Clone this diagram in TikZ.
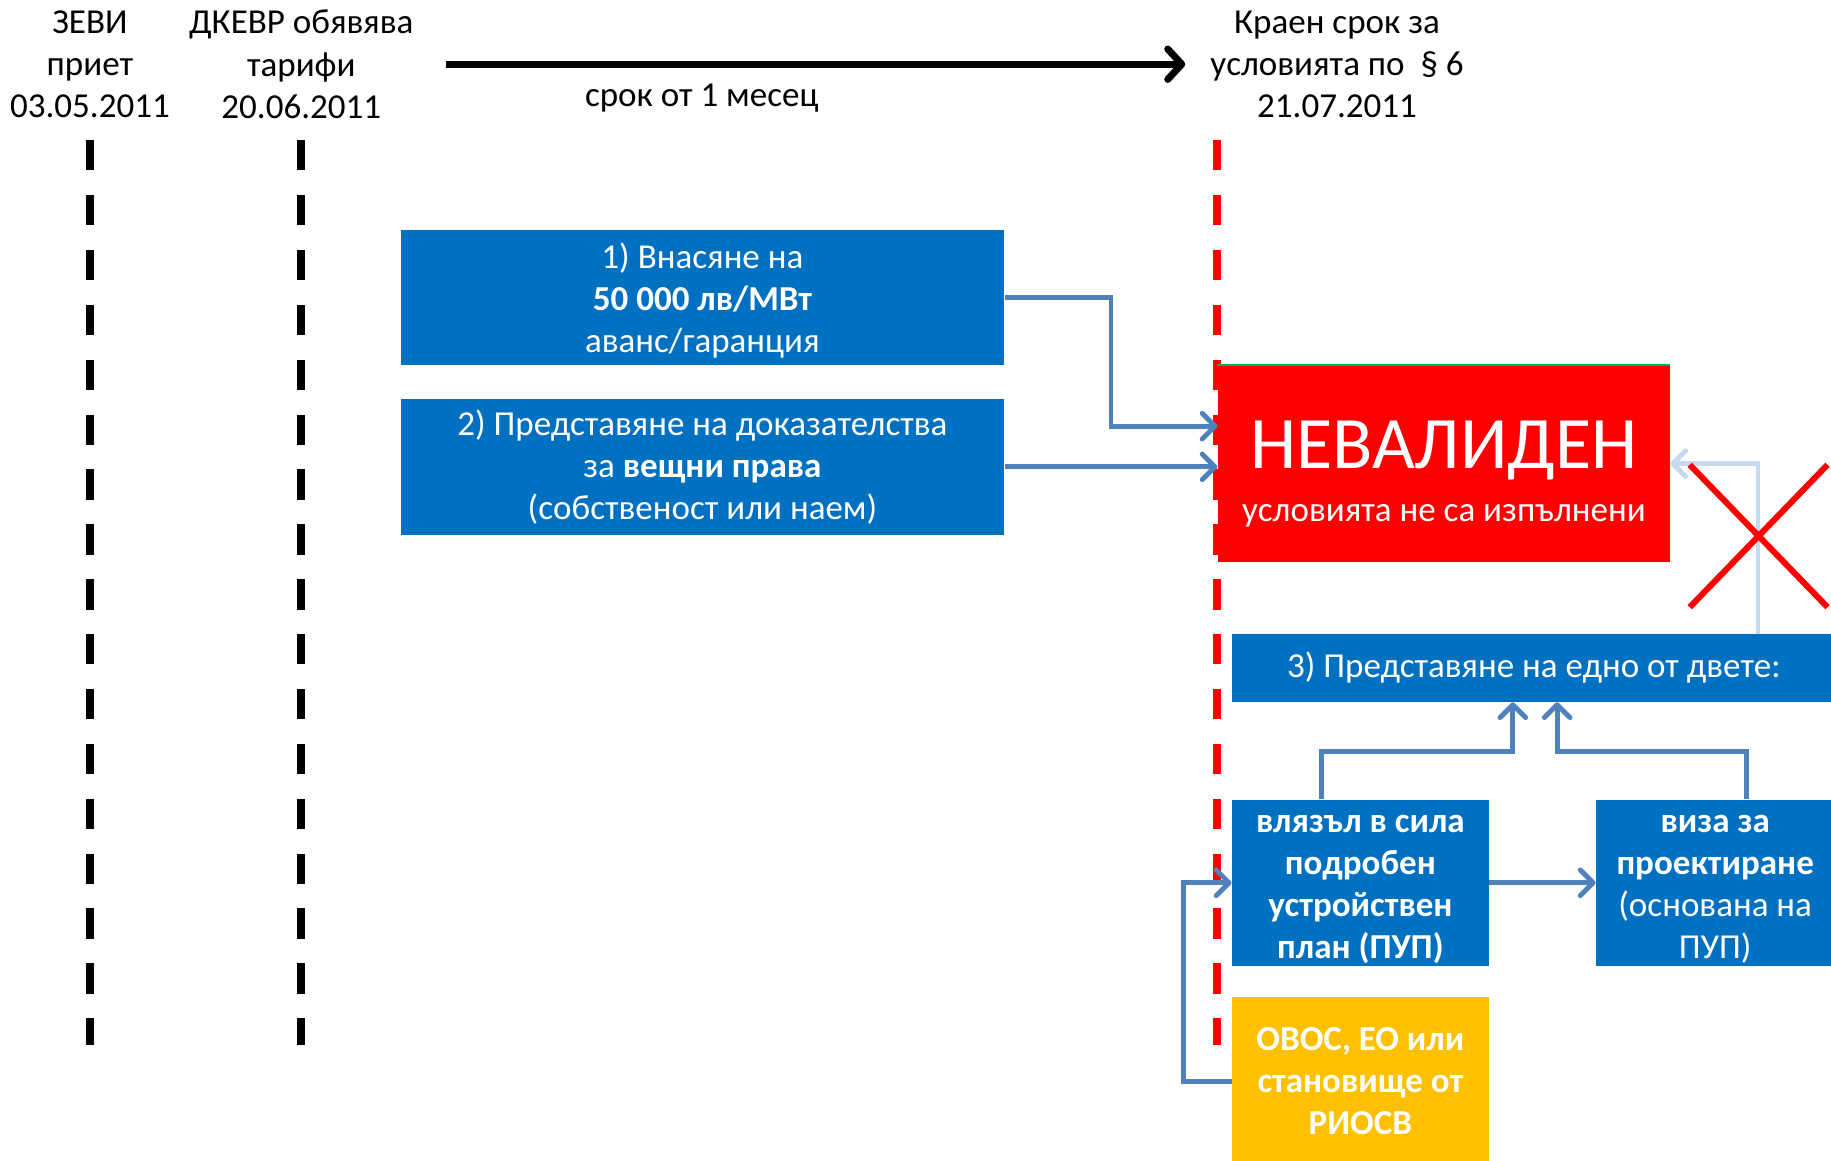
\documentclass[tikz,border=0pt]{standalone}
\usepackage{fontspec}
\setmainfont{Carlito}
\usepackage{tikz}
\usetikzlibrary{arrows.meta,positioning}
\definecolor{boxblue}{RGB}{0,112,192}
\definecolor{linkblue}{RGB}{79,129,189}
\definecolor{paleblue}{RGB}{198,217,241}
\definecolor{warnred}{RGB}{255,0,0}
\definecolor{amber}{RGB}{255,192,0}
\definecolor{topgreen}{RGB}{0,176,80}
\tikzstyle{box}=[rectangle, inner sep=2pt, align=center, text=white, font=\fontsize{15}{18}\selectfont]
\tikzstyle{bluebox}=[box, fill=boxblue]
\tikzstyle{yellowbox}=[box, fill=amber, font=\fontsize{15}{18}\selectfont\bfseries]
\tikzstyle{link}=[linkblue, line width=2.1pt, -{Straight Barb[length=5.5pt,width=11pt,round]}]
\tikzstyle{timeline}=[line width=3.5pt, dash pattern=on 13pt off 10.5pt]
\tikzstyle{caption}=[align=center, font=\fontsize{15}{18}\selectfont]

\begin{document}
\begin{tikzpicture}[x=0.5pt, y=-0.5pt]
    \useasboundingbox (0,0) rectangle (1568,994);

    % dashed date lines, using a loop
    \foreach \x in {77, 258}{
      \draw[timeline, black] (\x,120) -- (\x,895);
    }
    \draw[timeline, warnred] (1042,120) -- (1042,895);

    % dates on top
    \node[caption] (zevi) at (77,55) {ЗЕВИ\\приет\\03.05.2011};
    \node[caption] (dkevr) at (258,55) {ДКЕВР обявява\\тарифи\\20.06.2011};
    \node[caption] (deadline) at (1145,55) {Краен срок за\\условията по \ § 6\\21.07.2011};

    % one month arrow
    \coordinate (monthstart) at (382,55);
    \coordinate (monthend) at (1015,55);
    \draw[line width=3pt, -{Straight Barb[length=6pt,width=13pt,round]}] (monthstart) -- (monthend);
    \node[caption] (month) at (601,84) {срок от 1 месец};

    % conditions 1) and 2)
    \node[bluebox, minimum width=258.5pt, minimum height=58pt] (one) at (601.5,255)
      {\rule{0pt}{13.3pt}1) Внасяне на\\\textbf{50 000 лв/МВт}\\аванс/гаранция};
    \node[bluebox, minimum width=258.5pt, minimum height=58pt, below=14pt of one] (two)
      {2) Представяне на доказателства\\за \textbf{вещни права}\\(собственост или наем)};

    % invalid box
    \node[rectangle, fill=warnred, minimum width=193.5pt, minimum height=84pt] (invalid) at (1236.5,397) {};
    \draw[topgreen, line width=0.8pt] (invalid.north west) -- (invalid.north east);
    \node[anchor=base, text=white, font=\fontsize{31.7}{32}\selectfont, inner sep=0pt] (invalidtitle)
      at ([yshift=-2pt]invalid.center) {НЕВАЛИДЕН};
    \node[anchor=base, text=white, font=\fontsize{15}{18}\selectfont, inner sep=0pt] (invalidnote)
      at ([yshift=-25pt]invalid.center) {условията не са изпълнени};

    % condition 3)
    \node[bluebox, minimum width=258.5pt, minimum height=29pt] (three) at (1313.5,572)
      {3) Представяне на едно от двете:};
    \node[bluebox, font=\fontsize{15}{18}\selectfont\bfseries, inner ysep=0pt, minimum width=110pt, minimum height=71pt] (pup) at (1165,756)
      {\rule{0pt}{13pt}влязъл в сила\\подробен\\устройствен\\план (ПУП)};
    \node[bluebox, inner ysep=0pt, minimum width=102pt, minimum height=71pt, right=45.5pt of pup] (viza)
      {\rule{0pt}{13pt}\textbf{виза за}\\\textbf{проектиране}\\(основана на\\ПУП)};
    \node[yellowbox, minimum width=110pt, minimum height=72pt, below=13pt of pup] (ovos)
      {ОВОС, ЕО или\\становище от\\РИОСВ};

    % connectors
    \draw[link] (one.east) -- ++(45.5pt,0) |- ([yshift=16pt]invalid.west);
    \draw[link] (two.east) -- (two.east -| invalid.west);
    \draw[link, paleblue] ([xshift=96pt]three.north) |- (invalid.east);
    \draw[link] ([xshift=-16.5pt]pup.north) |- ([xshift=-9pt,yshift=-21pt]three.south) -- ([xshift=-9pt]three.south);
    \draw[link] ([xshift=13.5pt]viza.north) |- ([xshift=10pt,yshift=-21pt]three.south) -- ([xshift=10pt]three.south);
    \draw[link] (pup.east) -- (viza.west);
    \draw[link] (ovos.west) -- ++(-20.5pt,0) |- (pup.west);

    % red cross
    \foreach \a/\b in {398/520, 520/398}{
      \draw[warnred, line width=2.6pt] (1447,\a) -- (1565,\b);
    }
\end{tikzpicture}
\end{document}
